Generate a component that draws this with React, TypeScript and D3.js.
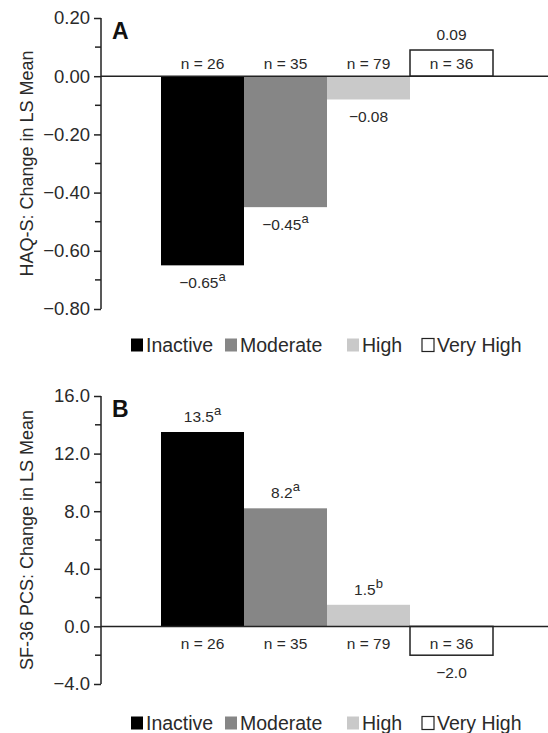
import React, { useEffect, useRef } from "react";
import * as d3 from "d3";

const categories = ["Inactive", "Moderate", "High", "Very High"];
const sampleSizes = [26, 35, 79, 36];
const haqValues = [-0.65, -0.45, -0.08, 0.09];
const haqMarks = ["a", "a", "", ""];
const pcsValues = [13.5, 8.2, 1.5, -2.0];
const pcsMarks = ["a", "a", "b", ""];
const haqTicks = [0.2, 0, -0.2, -0.4, -0.6, -0.8];
const pcsTicks = [16, 12, 8, 4, 0, -4];
const barColors = ["#000000", "#868686", "#c9c9c9", "#ffffff"];

const W = 548;
const H = 733;
const FONT = "'Liberation Sans', Arial, sans-serif";
const TEXT = "#2a2a2a";
const minus = (s: string) => s.replace("-", "\u2013");

interface PanelCfg {
  letter: string;
  title: string;
  values: number[];
  marks: string[];
  ticks: number[];
  domain: [number, number];
  range: [number, number];
  digits: number;
  nAbove: boolean;
  legendY: number;
}

const panels: PanelCfg[] = [
  {
    letter: "A",
    title: "HAQ-S: Change in LS Mean",
    values: haqValues,
    marks: haqMarks,
    ticks: haqTicks,
    domain: [-0.8, 0.2],
    range: [309, 18],
    digits: 2,
    nAbove: true,
    legendY: 345,
  },
  {
    letter: "B",
    title: "SF-36 PCS: Change in LS Mean",
    values: pcsValues,
    marks: pcsMarks,
    ticks: pcsTicks,
    domain: [-4, 16],
    range: [684, 396],
    digits: 1,
    nAbove: false,
    legendY: 723,
  },
];

const legendX = [131, 225, 347, 422];

function drawPanel(svg: d3.Selection<SVGSVGElement, unknown, null, undefined>, p: PanelCfg) {
  const axisX = 101;
  const x = d3.scaleBand<string>().domain(categories).range([161, 493]).padding(0);
  const y = d3.scaleLinear().domain(p.domain).range(p.range);
  const g = svg.append("g").attr("font-family", FONT);

  // bars
  g.selectAll("rect.bar")
    .data(p.values)
    .join("rect")
    .attr("class", "bar")
    .attr("x", (_d, i) => x(categories[i]) as number)
    .attr("width", x.bandwidth())
    .attr("y", (d) => y(Math.max(0, d)))
    .attr("height", (d) => Math.abs(y(d) - y(0)))
    .attr("fill", (_d, i) => barColors[i])
    .attr("stroke", (_d, i) => (i === 3 ? "#222" : "none"))
    .attr("stroke-width", 1.5);

  // zero line
  g.append("line")
    .attr("x1", axisX)
    .attr("x2", W)
    .attr("y1", y(0))
    .attr("y2", y(0))
    .attr("stroke", "#222")
    .attr("stroke-width", 1.5);

  // y axis with minor ticks
  const step = p.ticks[0] - p.ticks[1];
  const minor = p.ticks.slice(1).map((t) => t + step / 2);
  const axis = d3
    .axisLeft(y)
    .tickValues(p.ticks)
    .tickSize(7)
    .tickPadding(4)
    .tickFormat((d) => minus(d3.format(`.${p.digits}f`)(d as number)));
  const ax = g.append("g").attr("transform", `translate(${axisX},0)`).call(axis);
  ax.select(".domain").attr("stroke", "#222").attr("stroke-width", 1.5).attr("d", `M0,${y(p.domain[1])}V${y(p.domain[0])}`);
  ax.selectAll(".tick line").attr("stroke", "#222").attr("stroke-width", 1.5);
  ax.selectAll(".tick text").attr("font-size", 18.5).attr("fill", TEXT).attr("font-family", FONT);
  ax.selectAll("line.minor")
    .data(minor)
    .join("line")
    .attr("class", "minor")
    .attr("x1", -6)
    .attr("x2", 0)
    .attr("y1", (d) => y(d))
    .attr("y2", (d) => y(d))
    .attr("stroke", "#222")
    .attr("stroke-width", 1.5);

  // panel letter
  g.append("text")
    .attr("x", 112)
    .attr("y", y(p.domain[1]) + 21)
    .attr("font-size", 23)
    .attr("font-weight", "bold")
    .attr("fill", "#111")
    .text(p.letter);

  // axis title
  const midY = (y(p.domain[0]) + y(p.domain[1])) / 2;
  g.append("text")
    .attr("transform", `translate(33,${midY}) rotate(-90)`)
    .attr("text-anchor", "middle")
    .attr("font-size", 18)
    .attr("fill", TEXT)
    .text(p.title);

  // n labels
  g.selectAll("text.n")
    .data(sampleSizes)
    .join("text")
    .attr("class", "n")
    .attr("x", (_d, i) => (x(categories[i]) as number) + x.bandwidth() / 2)
    .attr("y", p.nAbove ? y(0) - 7 : y(0) + 23)
    .attr("text-anchor", "middle")
    .attr("font-size", 15.5)
    .attr("fill", TEXT)
    .text((d) => `n = ${d}`);

  // value labels
  const vl = g
    .selectAll("text.v")
    .data(p.values)
    .join("text")
    .attr("class", "v")
    .attr("x", (_d, i) => (x(categories[i]) as number) + x.bandwidth() / 2)
    .attr("y", (d) => (d < 0 ? y(d) + 23 : y(d) - 10))
    .attr("text-anchor", "middle")
    .attr("font-size", 15.5)
    .attr("fill", TEXT);
  vl.append("tspan").text((d) => minus(d3.format(`.${p.digits}f`)(d)));
  vl.append("tspan")
    .attr("dy", -7)
    .attr("font-size", 13)
    .text((_d, i) => p.marks[i]);

  // legend
  const lg = g.append("g");
  categories.forEach((c, i) => {
    lg.append("rect")
      .attr("x", legendX[i])
      .attr("y", p.legendY - 6.5)
      .attr("width", 12)
      .attr("height", 13)
      .attr("fill", barColors[i])
      .attr("stroke", i === 3 ? "#222" : "none")
      .attr("stroke-width", 1.2);
    lg.append("text")
      .attr("x", legendX[i] + 15)
      .attr("y", p.legendY + 7)
      .attr("font-size", 19.5)
      .attr("fill", TEXT)
      .text(c);
  });
}

export default function App() {
  const ref = useRef<SVGSVGElement>(null);
  useEffect(() => {
    if (!ref.current) return;
    const svg = d3.select(ref.current);
    svg.selectAll("*").remove();
    panels.forEach((p) => drawPanel(svg, p));
  }, []);
  return (
    <svg
      ref={ref}
      width={W}
      height={H}
      style={{ position: "absolute", left: 0, top: 0, background: "#fff" }}
    />
  );
}
